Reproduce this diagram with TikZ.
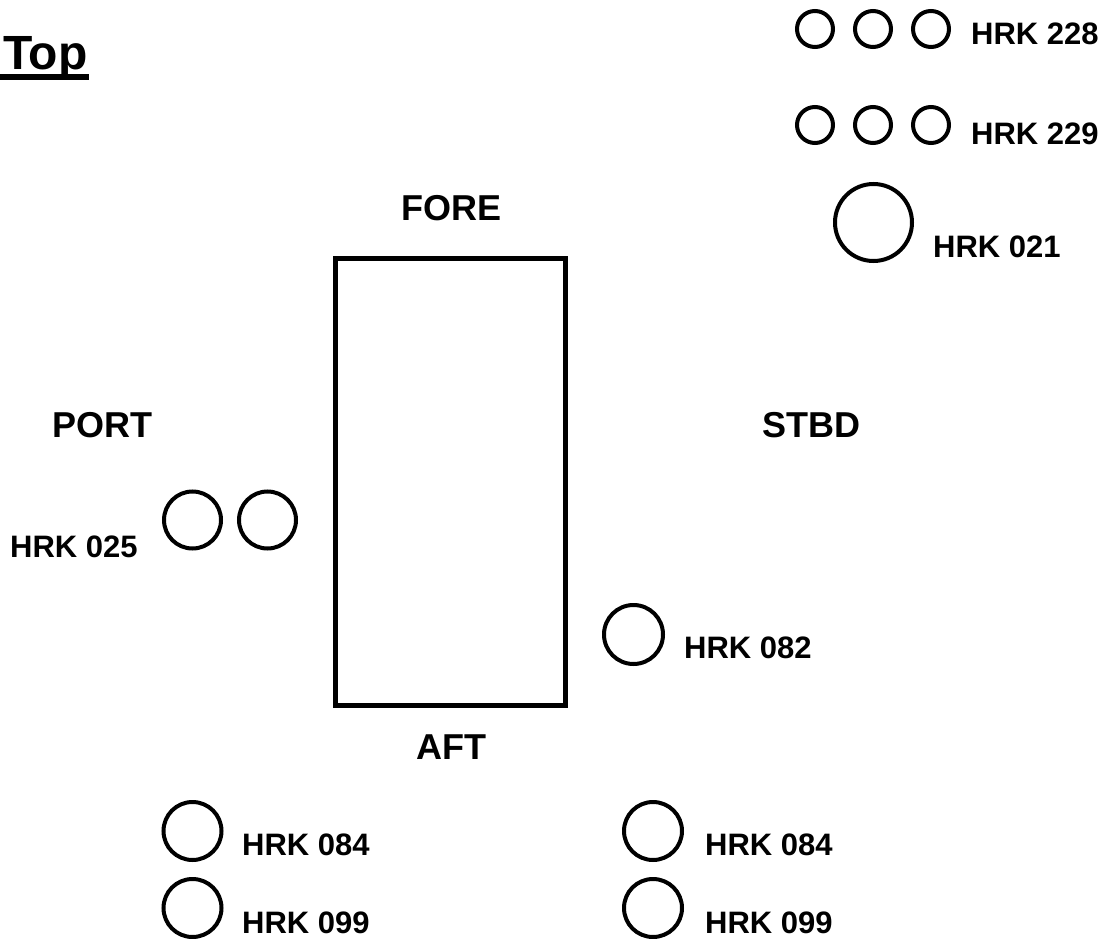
\documentclass[tikz,border=0pt]{standalone}
\usepackage{fontspec}
\setmainfont{Liberation Sans}
\begin{document}
\begin{tikzpicture}[x=1pt,y=-1pt,
  ring/.style={draw=black,line width=4pt,circle,inner sep=0pt,minimum size=#1},
  lbl/.style={inner sep=0pt,anchor=base west,font=\fontsize{31}{31}\selectfont\bfseries},
  side/.style={inner sep=0pt,anchor=base,font=\fontsize{36}{36}\selectfont\bfseries}]
\useasboundingbox (0,0) rectangle (1112,939);
% title
\node[inner sep=0pt,anchor=base west,font=\fontsize{48}{48}\selectfont\bfseries] (title) at (3,70) {Top};
\fill (0,74) rectangle (89,80);
% hull box
\node[draw=black,line width=5.5pt,inner sep=0pt,minimum width=230pt,minimum height=447pt] (box) at (450.5,482) {};
\node[side] (fore) at (451.5,221) {FORE};
\node[side] (aft) at (451.5,759) {AFT};
\node[side] (port) at (102.5,437) {PORT};
\node[side] (stbd) at (811.5,437) {STBD};
% top right groups
\node[ring=36pt] (c1a) at (815,29) {};
\node[ring=36pt] (c1b) at (873,29) {};
\node[ring=36pt] (c1c) at (931,29) {};
\node[lbl] (l228) at (971,45) {HRK 228};
\node[ring=36pt] (c2a) at (815,125) {};
\node[ring=36pt] (c2b) at (873,125) {};
\node[ring=36pt] (c2c) at (931,125) {};
\node[lbl] (l229) at (971,145) {HRK 229};
\node[ring=77pt] (c3) at (873.5,222.5) {};
\node[lbl] (l021) at (933,257) {HRK 021};
% port
\node[ring=57pt] (p1) at (192.5,520) {};
\node[ring=57pt] (p2) at (267.5,520) {};
\node[lbl] (l025) at (10,557) {HRK 025};
% stbd
\node[ring=59pt] (s1) at (633.5,634.5) {};
\node[lbl] (l082) at (684,658) {HRK 082};
% bottom
\node[ring=58pt] (b1) at (192.5,831) {};
\node[lbl] (l084a) at (242,855) {HRK 084};
\node[ring=58pt] (b2) at (192.5,908) {};
\node[lbl] (l099a) at (242,933) {HRK 099};
\node[ring=58pt] (b3) at (653,831) {};
\node[lbl] (l084b) at (705,855) {HRK 084};
\node[ring=58pt] (b4) at (653,908) {};
\node[lbl] (l099b) at (705,933) {HRK 099};
\end{tikzpicture}
\end{document}
